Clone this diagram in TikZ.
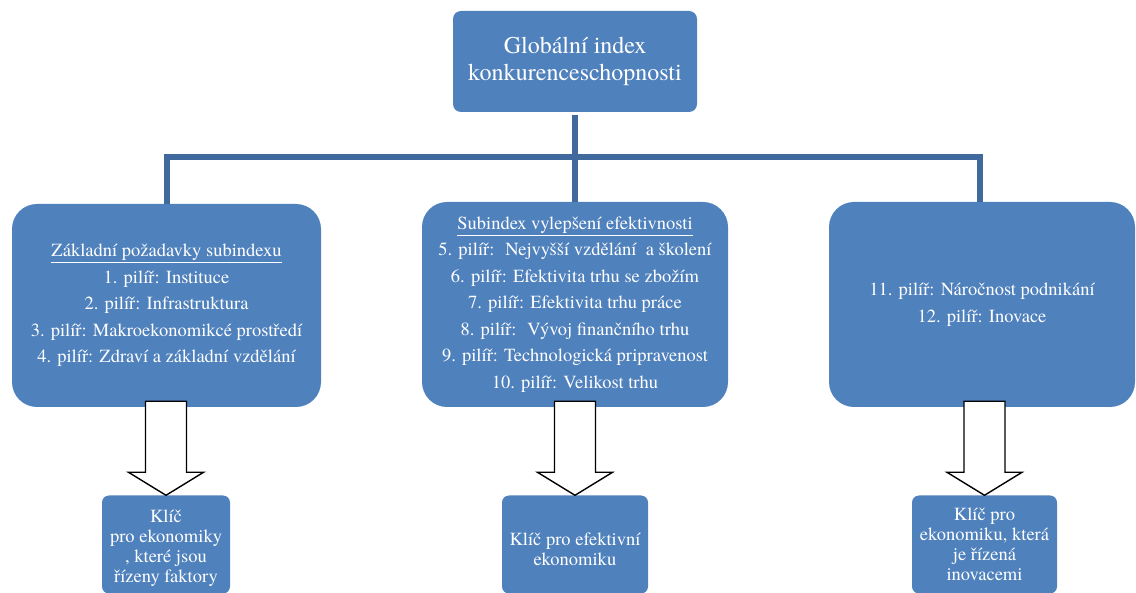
\documentclass[tikz,border=0pt]{standalone}
\usepackage{fontspec}
\setmainfont{texgyretermes}[Extension=.otf, UprightFont=*-regular, BoldFont=*-bold, ItalicFont=*-italic, BoldItalicFont=*-bolditalic]
\usetikzlibrary{calc}
\definecolor{boxblue}{HTML}{4F81BD}
\definecolor{lineblue}{HTML}{40699E}
\tikzset{
  bigbox/.style={rectangle, rounded corners=25pt, fill=boxblue, draw=none,
    text=white, align=center, inner sep=0pt,
    font=\fontsize{18.5pt}{26.5pt}\selectfont},
  topbox/.style={rectangle, rounded corners=8pt, fill=boxblue, draw=none,
    text=white, align=center, inner sep=0pt,
    minimum width=244pt, minimum height=101pt,
    font=\fontsize{24pt}{27pt}\selectfont},
  keybox/.style={rectangle, rounded corners=7pt, fill=boxblue, draw=none,
    inner sep=0pt, minimum height=98pt},
  keytext/.style={text=white, align=center, inner sep=0pt,
    font=\fontsize{18.5pt}{20pt}\selectfont},
  conn/.style={draw=lineblue, line width=6pt, line join=miter},
  barrow/.style={draw=black, fill=white, line width=1.4pt, line join=miter},
}
\begin{document}
\begin{tikzpicture}[x=1pt,y=-1pt]
\useasboundingbox (0,0) rectangle (1136,593);

\node[topbox] (T) at (575,61.5) {Globální index\\konkurenceschopnosti};

\node[bigbox, minimum width=309pt, minimum height=203pt] (L) at (166.5,305.5)
  {\underline{Základní požadavky subindexu}\\
   1. pilíř: Instituce\\
   2. pilíř: Infrastruktura\\
   3. pilíř: Makroekonomikcé prostředí\\
   4. pilíř: Zdraví a základní vzdělání};

\node[bigbox, minimum width=306pt, minimum height=205pt] (C) at (575,304.5)
  {\underline{Subindex vylepšení efektivnosti}\\
   5. pilíř: \ Nejvyšší vzdělání \ a školení\\
   6. pilíř: Efektivita trhu se zbožím\\
   7. pilíř: Efektivita trhu práce\\
   8. pilíř: \ Vývoj finančního trhu\\
   9. pilíř: Technologická pripravenost\\
   10. pilíř: Velikost trhu};

\node[bigbox, minimum width=306pt, minimum height=205pt] (R) at (982,304.5)
  {11. pilíř: Náročnost podnikání\\
   12. pilíř: Inovace};

\node[keybox, minimum width=128pt,
  label={[keytext, yshift=-4pt]center:{Klíč\\pro ekonomiky\\, které jsou\\řízeny faktory}}]
  (BL) at (166,544.5) {};
\node[keybox, minimum width=146pt,
  label={[keytext, yshift=-5pt]center:{Klíč pro efektivní\\ekonomiku}}]
  (BC) at (575,544.5) {};
\node[keybox, minimum width=145pt,
  label={[keytext]center:{Klíč pro\\ekonomiku, která\\je řízená\\inovacemi}}]
  (BR) at (984.5,544.5) {};

% connectors
\coordinate (hb) at (575,157);
\draw[conn] ([yshift=-3pt]T.south) -- (C.north);
\draw[conn] ([xshift=0.5pt]L.north) -- ([xshift=0.5pt]L.north |- hb)
  -- ([xshift=-2pt]R.north |- hb) -- ([xshift=-2pt]R.north);

% block arrows
\foreach \dst in {BL, BC, BR}{
  \draw[barrow]
    ($(\dst.north)+(-20.5,-94)$)
    -- ($(\dst.north)+(20.5,-94)$)
    -- ($(\dst.north)+(20.5,-23)$)
    -- ($(\dst.north)+(37.5,-23)$)
    -- (\dst.north)
    -- ($(\dst.north)+(-37.5,-23)$)
    -- ($(\dst.north)+(-20.5,-23)$)
    -- cycle;
}
\end{tikzpicture}
\end{document}
